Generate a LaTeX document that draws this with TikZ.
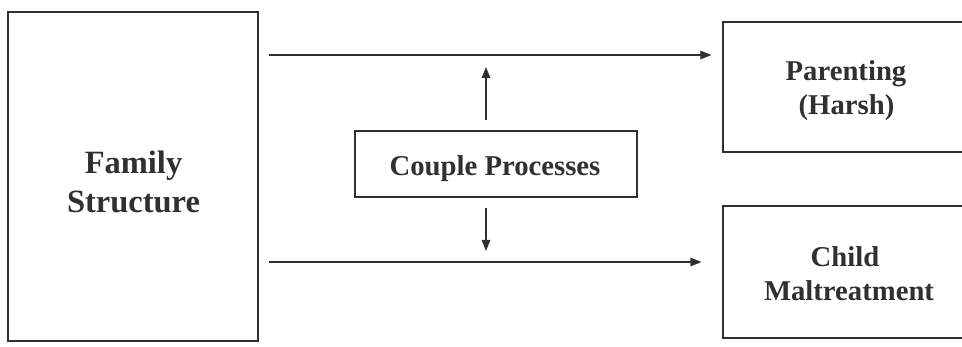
\documentclass[tikz,border=0pt]{standalone}
\usepackage{fontspec}
\setmainfont{Liberation Serif}
\usetikzlibrary{arrows.meta}
\definecolor{ink}{HTML}{303030}
\tikzset{
  box/.style={draw=ink, line width=1.1pt, rectangle, inner sep=0pt},
  lbl/.style={inner sep=0pt, anchor=base, font=\fontsize{28.7}{34}\selectfont\bfseries, text=ink},
  biglbl/.style={lbl, font=\fontsize{32.5}{38}\selectfont\bfseries},
  arr/.style={draw=ink, line width=1.1pt, -{Triangle[length=11pt,width=8.5pt]}},
}
\begin{document}
\begin{tikzpicture}[x=1pt,y=-1pt]
\useasboundingbox (0,0) rectangle (962,347);
% boxes
\node[box, minimum width=250pt, minimum height=329pt] (fam) at (133,176.5) {};
\node[box, minimum width=248pt, minimum height=130pt] (par) at (847,87) {};
\node[box, minimum width=248pt, minimum height=132pt] (chi) at (847,272) {};
\node[box, minimum width=282pt, minimum height=66pt] (cp) at (496,164) {};
% labels
\node[biglbl] (fam1) at (133.5,174) {Family};
\node[biglbl] (fam2) at (133.5,213) {Structure};
\node[lbl] (par1) at (846,81) {Parenting};
\node[lbl] (par2) at (846.5,115) {(Harsh)};
\node[lbl] (chi1) at (845,267) {Child};
\node[lbl] (chi2) at (849,301) {Maltreatment};
\node[lbl] (cpt) at (495,176) {Couple Processes};
% helper coordinates
\coordinate (y1) at (0,55);
\coordinate (y2) at (0,262);
\coordinate (ux) at (486,0);
% arrows
\draw[arr, shorten <=10pt, shorten >=11pt] (fam.east |- y1) -- (par.west |- y1);
\draw[arr, shorten <=10pt, shorten >=21pt] (fam.east |- y2) -- (chi.west |- y2);
\draw[arr, shorten <=10pt, shorten >=12pt] (ux |- cp.north) -- (ux |- y1);
\draw[arr, shorten <=10pt, shorten >=11pt] (ux |- cp.south) -- (ux |- y2);
\end{tikzpicture}
\end{document}
